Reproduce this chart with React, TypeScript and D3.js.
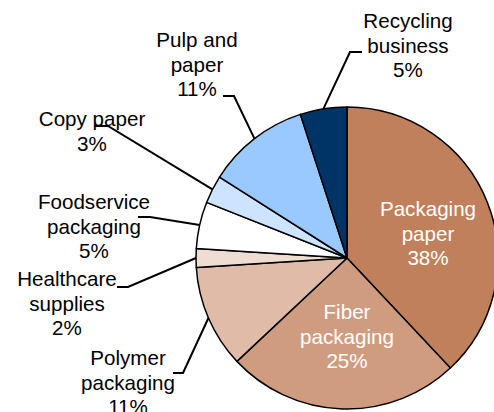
import React from "react";
import * as d3 from "d3";

const categories = [
  "Packaging paper",
  "Fiber packaging",
  "Polymer packaging",
  "Healthcare supplies",
  "Foodservice packaging",
  "Copy paper",
  "Pulp and paper",
  "Recycling business",
];
const values = [38, 25, 11, 2, 5, 3, 11, 5];
const labelLines = [
  ["Packaging", "paper", "38%"],
  ["Fiber", "packaging", "25%"],
  ["Polymer", "packaging", "11%"],
  ["Healthcare", "supplies", "2%"],
  ["Foodservice", "packaging", "5%"],
  ["Copy paper", "3%"],
  ["Pulp and", "paper", "11%"],
  ["Recycling", "business", "5%"],
];
const colors = ["#C0805C", "#D09C80", "#E0BCA8", "#F0DDD2", "#FFFFFF", "#CCE4FF", "#99C9FF", "#003366"];

// layout: label anchor (center x, first baseline), inside flag, leader elbow & end
const layout = [
  { x: 428, y: 216, inside: true },
  { x: 347, y: 319, inside: true },
  { x: 128, y: 365, elbow: [183, 373], end: [173, 373] },
  { x: 67, y: 286, elbow: [128, 287], end: [117, 287] },
  { x: 94, y: 209, elbow: [150, 217], end: [138, 217] },
  { x: 92, y: 126, elbow: [108, 126], end: [95, 126] },
  { x: 197, y: 47, elbow: [234, 96], end: [223, 96] },
  { x: 408, y: 28, elbow: [350, 52], end: [362, 52] },
];

export default function App() {
  const W = 494, H = 412;
  const cx = 347, cy = 258, r = 151;
  const pie = d3.pie<number>().sort(null).value((d) => d)(values);
  const arc = d3.arc<d3.PieArcDatum<number>>().innerRadius(0).outerRadius(r);
  const lh = 24.5;
  return (
    <svg width={W} height={H} style={{ position: "absolute", left: 0, top: 0, background: "#fff" }}
      fontFamily="'Liberation Sans', Arial, sans-serif" fontSize={20.6}>
      <g transform={`translate(${cx},${cy})`}>
        {pie.map((p, i) => (
          <path key={i} d={arc(p) || ""} fill={colors[i]} stroke="#000" strokeWidth={1.5} strokeLinejoin="round">
            <title>{categories[i]}</title>
          </path>
        ))}
      </g>
      {pie.map((p, i) => {
        const L: any = layout[i];
        if (L.inside) return null;
        const a = (p.startAngle + p.endAngle) / 2;
        const ex = cx + r * Math.sin(a), ey = cy - r * Math.cos(a);
        return (
          <polyline key={"l" + i} points={`${ex},${ey} ${L.elbow[0]},${L.elbow[1]} ${L.end[0]},${L.end[1]}`}
            fill="none" stroke="#000" strokeWidth={2} />
        );
      })}
      {labelLines.map((lines, i) => {
        const L: any = layout[i];
        return (
          <text key={"t" + i} x={L.x} y={L.y} textAnchor="middle" fill={L.inside ? "#fff" : "#000"}>
            {lines.map((s, j) => (
              <tspan key={j} x={L.x} y={L.y + j * lh}>{s}</tspan>
            ))}
          </text>
        );
      })}
    </svg>
  );
}
